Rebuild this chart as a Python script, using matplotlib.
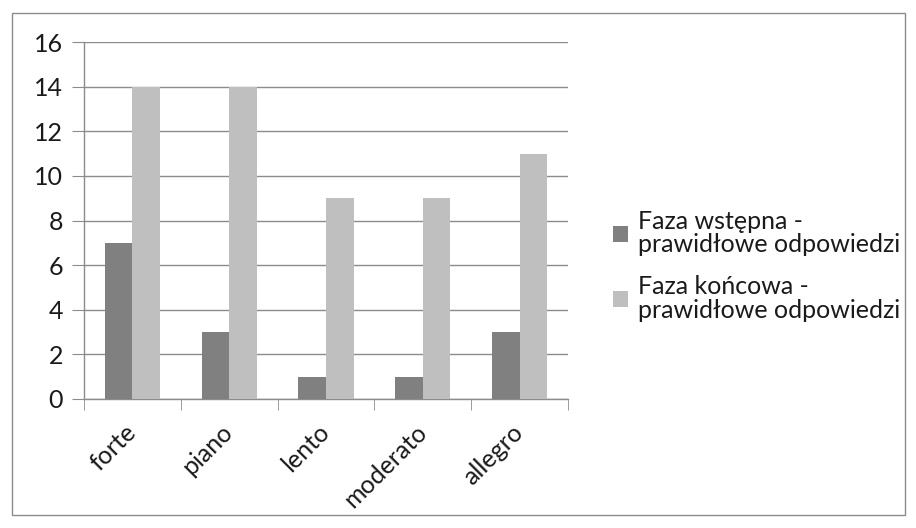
import numpy as np
import matplotlib.pyplot as plt
from matplotlib.patches import Rectangle

kategorie = ["forte", "piano", "lento", "moderato", "allegro"]
faza_wstepna = [7, 3, 1, 1, 3]
faza_koncowa = [14, 14, 9, 9, 11]
etykiety = ["Faza wstępna -\nprawidłowe odpowiedzi",
            "Faza końcowa -\nprawidłowe odpowiedzi"]
kolory = ["#808080", "#bfbfbf"]

plt.rcParams['font.family'] = ['Lato', 'DejaVu Sans']

fig = plt.figure(figsize=(9.16, 5.28), dpi=100)
fig.patch.set_facecolor("white")
# ramka wokol calego wykresu
fig.add_artist(Rectangle((12 / 916, 13 / 528), 893 / 916, 502 / 528,
                         transform=fig.transFigure, fill=False,
                         edgecolor="#8c8c8c", linewidth=1.0))

ax = fig.add_axes([84 / 916, 1 - 399 / 528, 484 / 916, 357 / 528])

x = np.arange(len(kategorie))
w = 0.285
ax.bar(x - w / 2, faza_wstepna, w, color=kolory[0], label=etykiety[0], zorder=3)
ax.bar(x + w / 2, faza_koncowa, w, color=kolory[1], label=etykiety[1], zorder=3)

ax.set_xlim(-0.5, len(kategorie) - 0.5)
ax.set_ylim(0, 16)
ax.set_yticks(range(0, 17, 2))
ax.yaxis.grid(True, color="#8c8c8c", linewidth=1.0, zorder=0)
ax.tick_params(axis="y", length=9, color="#8c8c8c", labelsize=18, pad=6,
               labelcolor="#1a1a1a")

ax.set_xticks(x)
ax.set_xticklabels(kategorie, rotation=45, ha="right", va="center",
                   rotation_mode="anchor", fontsize=18, color="#1a1a1a")
ax.set_xticks(np.arange(-0.5, len(kategorie)), minor=True)
ax.tick_params(axis="x", which="major", length=0, pad=21)
ax.tick_params(axis="x", which="minor", length=8, color="#8c8c8c")

for s in ["top", "right"]:
    ax.spines[s].set_visible(False)
for s in ["left", "bottom"]:
    ax.spines[s].set_color("#8c8c8c")
    ax.spines[s].set_linewidth(1.0)

leg = fig.legend(loc="upper left", bbox_to_anchor=(600 / 916, 1 - 197 / 528),
                 frameon=False, fontsize=18, handlelength=0.6, handleheight=0.6,
                 handletextpad=0.4, labelspacing=0.75, labelcolor="#1a1a1a",
                 borderpad=0)
for t in leg.get_texts():
    t.set_linespacing(1.05)

plt.savefig("out.png", dpi=100)
